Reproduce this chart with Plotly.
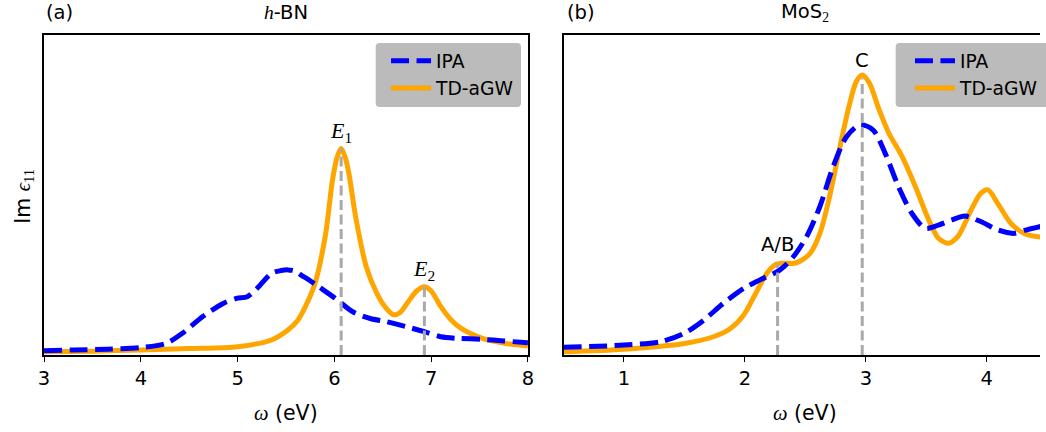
import plotly.graph_objects as go

# ---------------- data (arbitrary units 0..1 of frame) ----------------
bn_omega = [3.0, 3.3, 3.66, 4.0, 4.26, 4.43, 4.64, 4.85, 4.99, 5.10, 5.20, 5.35, 5.45, 5.52, 5.60,
            5.66, 5.75, 5.84, 6.01, 6.19, 6.37, 6.54, 6.75, 6.93, 7.10, 7.28, 7.53, 7.75, 8.0]
bn_ipa = [0.0135, 0.016, 0.018, 0.023, 0.036, 0.068, 0.12, 0.161, 0.177, 0.182, 0.208, 0.255, 0.264,
          0.266, 0.262, 0.249, 0.232, 0.213, 0.177, 0.135, 0.114, 0.104, 0.088, 0.073, 0.057, 0.052,
          0.049, 0.044, 0.038]

bn_omega_td = [3.0, 3.5, 4.0, 4.5, 5.0, 5.35, 5.52, 5.62, 5.70, 5.80, 5.91, 5.98, 6.03, 6.07, 6.11,
               6.15, 6.22, 6.33, 6.44, 6.53, 6.61, 6.68, 6.75, 6.85, 6.93, 7.00, 7.10, 7.20, 7.31,
               7.53, 7.77, 8.0]
bn_tdagw = [0.010, 0.012, 0.016, 0.020, 0.026, 0.047, 0.078, 0.108, 0.151, 0.224, 0.379, 0.546,
            0.620, 0.645, 0.620, 0.567, 0.431, 0.275, 0.192, 0.148, 0.126, 0.133, 0.161, 0.200,
            0.213, 0.200, 0.151, 0.112, 0.083, 0.052, 0.036, 0.028]

bn_peaks = [6.07, 6.93]
bn_peak_heights = [0.645, 0.213]
bn_peak_labels = ["E1", "E2"]

mos2_omega = [0.5, 1.0, 1.31, 1.50, 1.66, 1.82, 1.99, 2.12, 2.29, 2.40, 2.51, 2.62, 2.73, 2.84,
              2.95, 3.06, 3.16, 3.27, 3.38, 3.49, 3.60, 3.71, 3.82, 3.95, 4.09, 4.22, 4.33, 4.45]
mos2_ipa = [0.024, 0.031, 0.042, 0.068, 0.109, 0.161, 0.208, 0.234, 0.266, 0.307, 0.37, 0.464,
            0.589, 0.682, 0.719, 0.703, 0.63, 0.526, 0.443, 0.396, 0.406, 0.422, 0.434, 0.417,
            0.391, 0.380, 0.391, 0.402]

mos2_omega_td = [0.5, 1.0, 1.5, 1.74, 1.88, 1.99, 2.09, 2.18, 2.26, 2.32, 2.40, 2.45, 2.54, 2.62,
                 2.70, 2.78, 2.86, 2.92, 2.97, 3.03, 3.11, 3.19, 3.30, 3.41, 3.52, 3.60, 3.68,
                 3.76, 3.87, 3.95, 4.01, 4.09, 4.20, 4.31, 4.45]
mos2_tdagw = [0.010, 0.018, 0.036, 0.057, 0.083, 0.125, 0.193, 0.255, 0.284, 0.287, 0.286, 0.292,
              0.318, 0.38, 0.495, 0.64, 0.776, 0.854, 0.875, 0.849, 0.766, 0.693, 0.62, 0.526,
              0.422, 0.365, 0.349, 0.37, 0.453, 0.505, 0.516, 0.474, 0.411, 0.38, 0.368]

mos2_peaks = [2.27, 2.97]
mos2_peak_heights = [0.285, 0.865]
mos2_peak_labels = ["A/B", "C"]

# ---------------- styling ----------------
W, H = 1046, 432
SANS = "DejaVu Sans"
SERIF = "Liberation Serif"
FS = 19.5      # ticks / titles
FS_LAB = 20.5  # axis labels
FS_LEG = 18.7  # legend
BLUE = "#0000ff"
ORANGE = "#ffa500"
GRAY = "#a9a9a9"


def px_x(p):
    return p / W


def px_y(p):
    return 1 - p / H


dom1 = [px_x(38.5), px_x(528)]
dom2 = [px_x(564), 1.0]
ydom = [px_y(355), px_y(35)]

fig = go.Figure()


def add_panel(xa, ya, om_ipa, ipa, om_td, td, peaks, heights, legend):
    fig.add_trace(go.Scatter(x=om_td, y=td, mode="lines", name="TD-aGW",
                             line=dict(color=ORANGE, width=5, shape="spline", smoothing=0.8),
                             xaxis=xa, yaxis=ya, legend=legend, legendrank=2,
                             showlegend=True))
    fig.add_trace(go.Scatter(x=om_ipa, y=ipa, mode="lines", name="IPA",
                             line=dict(color=BLUE, width=5, dash="18px,7.5px", shape="spline",
                                       smoothing=0.8),
                             xaxis=xa, yaxis=ya, legend=legend, legendrank=1,
                             showlegend=True))
    for xp, hp in zip(peaks, heights):
        fig.add_trace(go.Scatter(x=[xp, xp], y=[0, hp], mode="lines", showlegend=False,
                                 line=dict(color=GRAY, width=3, dash="10px,4.5px"),
                                 xaxis=xa, yaxis=ya, hoverinfo="skip"))


add_panel("x", "y", bn_omega, bn_ipa, bn_omega_td, bn_tdagw, bn_peaks, bn_peak_heights, "legend")
add_panel("x2", "y2", mos2_omega, mos2_ipa, mos2_omega_td, mos2_tdagw, mos2_peaks,
          mos2_peak_heights, "legend2")

axis_common = dict(showline=True, linecolor="black", linewidth=1.6, showgrid=False,
                   zeroline=False, ticks="outside", ticklen=5, tickwidth=1.4, tickcolor="black",
                   tickfont=dict(family=SANS, size=FS, color="black"), mirror=True)
yaxis_common = dict(showline=True, linecolor="black", linewidth=1.6, showgrid=False,
                    zeroline=False, ticks="", showticklabels=False, range=[0, 1], domain=ydom)

leg_common = dict(yanchor="top", xanchor="right", bgcolor="rgba(0,0,0,0)", borderwidth=0,
                  itemwidth=40, font=dict(family=SANS, size=FS_LEG, color="black"),
                  tracegroupgap=0)

fig.update_layout(
    width=W, height=H, margin=dict(l=0, r=0, t=0, b=0),
    paper_bgcolor="white", plot_bgcolor="white",
    font=dict(family=SANS, color="black"),
    xaxis=dict(domain=dom1, range=[3, 8], tickvals=[3, 4, 5, 6, 7, 8], anchor="y", **axis_common),
    yaxis=dict(anchor="x", mirror=True, **yaxis_common),
    xaxis2=dict(domain=dom2, range=[0.5, 4.44], tickvals=[1, 2, 3, 4], anchor="y2", **axis_common),
    yaxis2=dict(anchor="x2", mirror=False, **yaxis_common),
    legend=dict(x=px_x(519), y=px_y(42), **leg_common),
    legend2=dict(x=px_x(1049), y=px_y(42), **leg_common),
    showlegend=True,
)


def rounded_rect(x0, y0, x1, y1, r):
    # pixel coords -> paper path
    def P(x, y):
        return f"{px_x(x):.5f},{px_y(y):.5f}"
    return (f"M{P(x0 + r, y0)} L{P(x1 - r, y0)} Q{P(x1, y0)} {P(x1, y0 + r)} "
            f"L{P(x1, y1 - r)} Q{P(x1, y1)} {P(x1 - r, y1)} L{P(x0 + r, y1)} "
            f"Q{P(x0, y1)} {P(x0, y1 - r)} L{P(x0, y0 + r)} Q{P(x0, y0)} {P(x0 + r, y0)} Z")


for (x0, x1) in [(374, 521), (900, 1058)]:
    fig.add_shape(type="path", xref="paper", yref="paper", path=rounded_rect(x0, 43, x1, 107, 4),
                  fillcolor="#bbbbbb", line=dict(width=0), layer="above")

BLACK = "black"
ann = []
# panel labels and titles
ann.append(dict(text="(a)", x=px_x(38), y=px_y(13), xanchor="left", yanchor="middle",
                font=dict(family=SANS, size=FS, color=BLACK)))
ann.append(dict(text=f"<span style=\"font-family:'{SERIF}'\"><i>h</i></span>-BN",
                x=(dom1[0] + dom1[1]) / 2, y=px_y(13), xanchor="center", yanchor="middle",
                font=dict(family=SANS, size=FS, color=BLACK)))
ann.append(dict(text="(b)", x=px_x(565), y=px_y(13), xanchor="left", yanchor="middle",
                font=dict(family=SANS, size=FS, color=BLACK)))
ann.append(dict(text=f"MoS<sub><span style=\"font-family:'{SERIF}'\">2</span></sub>",
                x=px_x(808), y=px_y(13), xanchor="center", yanchor="middle",
                font=dict(family=SANS, size=FS, color=BLACK)))
# axis titles
xt = f"<span style=\"font-family:'{SERIF}'\"><i>ω</i></span> (eV)"
ann.append(dict(text=xt, x=(dom1[0] + dom1[1]) / 2, y=px_y(413), xanchor="center",
                yanchor="middle", font=dict(family=SANS, size=FS_LAB, color=BLACK)))
ann.append(dict(text=xt, x=px_x(808), y=px_y(413), xanchor="center", yanchor="middle",
                font=dict(family=SANS, size=FS_LAB, color=BLACK)))
ann.append(dict(text=f"Im <span style=\"font-family:'{SERIF}'\"><i>ϵ</i><sub>11</sub></span>",
                x=px_x(18), y=px_y(196), xanchor="center", yanchor="middle", textangle=-90,
                font=dict(family=SANS, size=FS_LAB, color=BLACK)))

for a in ann:
    a.update(xref="paper", yref="paper", showarrow=False)

# peak labels (data coords)
for xp, hp, lab in zip(bn_peaks, bn_peak_heights, bn_peak_labels):
    txt = f"<span style=\"font-family:'{SERIF}'\"><i>{lab[0]}</i><sub>{lab[1:]}</sub></span>"
    ann.append(dict(text=txt, x=xp, y=hp, xref="x", yref="y", showarrow=False,
                    yanchor="bottom", yshift=1, font=dict(family=SANS, size=22, color=BLACK)))
for xp, hp, lab in zip(mos2_peaks, mos2_peak_heights, mos2_peak_labels):
    ann.append(dict(text=lab, x=xp, y=hp, xref="x2", yref="y2", showarrow=False,
                    yanchor="bottom", yshift=4 if lab == "C" else 6,
                    font=dict(family=SANS, size=FS, color=BLACK)))

fig.update_layout(annotations=ann)
fig.write_html("out.html")
